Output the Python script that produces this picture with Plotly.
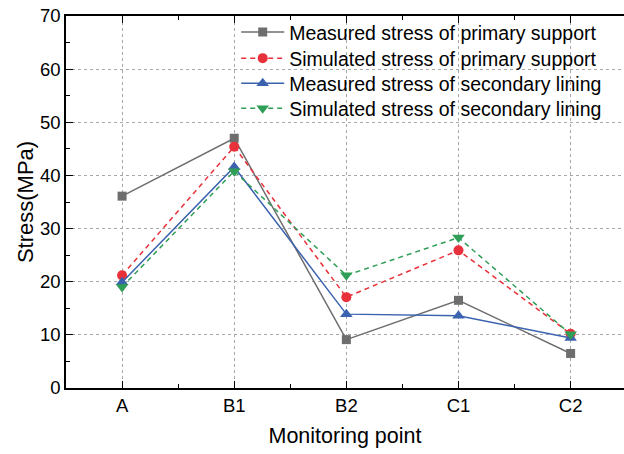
import plotly.graph_objects as go

# Monitoring points and stress values (MPa)
points = ["A", "B1", "B2", "C1", "C2"]
measured_primary = [36.1, 47.0, 9.1, 16.5, 6.5]
simulated_primary = [21.2, 45.4, 17.1, 25.9, 10.2]
measured_secondary = [19.9, 41.6, 13.9, 13.6, 9.4]
simulated_secondary = [19.0, 40.8, 21.2, 28.3, 10.1]

series_names = [
    "Measured stress of primary support",
    "Simulated stress of primary support",
    "Measured stress of secondary lining",
    "Simulated stress of secondary lining",
]

FONT = "Liberation Sans, Arial, sans-serif"

styles = [
    dict(color="#6e6e6e", dash="solid", symbol="square", size=9),
    dict(color="#e8313a", dash="5px,4px", symbol="circle", size=10),
    dict(color="#3b62ae", dash="solid", symbol="triangle-up", size=11),
    dict(color="#2f9e57", dash="5px,4px", symbol="triangle-down", size=11),
]

values = [measured_primary, simulated_primary, measured_secondary, simulated_secondary]
xpos = list(range(len(points)))

# one legend per series so the rows can be spaced tightly
legend_ids = ["legend", "legend2", "legend3", "legend4"]
legend_y = [1.0087, 0.9383, 0.8706, 0.8037]

fig = go.Figure()
for name, vals, st, lid in zip(series_names, values, styles, legend_ids):
    fig.add_trace(go.Scatter(
        x=xpos, y=vals, name=name, mode="lines+markers",
        legend=lid,
        line=dict(color=st["color"], width=1.5, dash=st["dash"]),
        marker=dict(color=st["color"], symbol=st["symbol"], size=st["size"],
                    line=dict(width=0)),
    ))

legend_style = dict(
    x=0.305, xanchor="left", yanchor="top",
    bgcolor="rgba(255,255,255,0)",
    font=dict(size=19.5, family=FONT),
    itemwidth=43,
)

fig.update_layout(
    width=624, height=454,
    margin=dict(l=66, r=0, t=16, b=66),
    paper_bgcolor="white", plot_bgcolor="white",
    font=dict(family=FONT, color="black"),
    showlegend=True,
    legend=dict(y=legend_y[0], **legend_style),
    legend2=dict(y=legend_y[1], **legend_style),
    legend3=dict(y=legend_y[2], **legend_style),
    legend4=dict(y=legend_y[3], **legend_style),
)

fig.update_xaxes(
    range=[-0.5, 4.476],
    tickmode="array", tickvals=xpos, ticktext=points,
    tickfont=dict(size=18.5),
    ticks="inside", ticklen=7, tickwidth=1.2, tickcolor="black",
    minor=dict(tickvals=[0.5, 1.5, 2.5, 3.5], ticks="inside", ticklen=4,
               tickwidth=1, tickcolor="black", showgrid=False),
    showline=True, linecolor="black", linewidth=1.5, mirror="ticks",
    showgrid=True, gridcolor="#a8a8a8", griddash="dot", gridwidth=1,
    zeroline=False,
    title=dict(text="Monitoring point", font=dict(size=21.5), standoff=13),
)

fig.update_yaxes(
    range=[0, 70], dtick=10,
    tickfont=dict(size=18.5),
    ticks="inside", ticklen=7, tickwidth=1.2, tickcolor="black",
    minor=dict(dtick=5, ticks="inside", ticklen=4, tickwidth=1,
               tickcolor="black", showgrid=False),
    showline=True, linecolor="black", linewidth=1.5, mirror=False,
    showgrid=True, gridcolor="#a8a8a8", griddash="dot", gridwidth=1,
    zeroline=False,
    title=dict(text="Stress(MPa)", font=dict(size=22), standoff=0),
)

fig.write_html("out.html")
